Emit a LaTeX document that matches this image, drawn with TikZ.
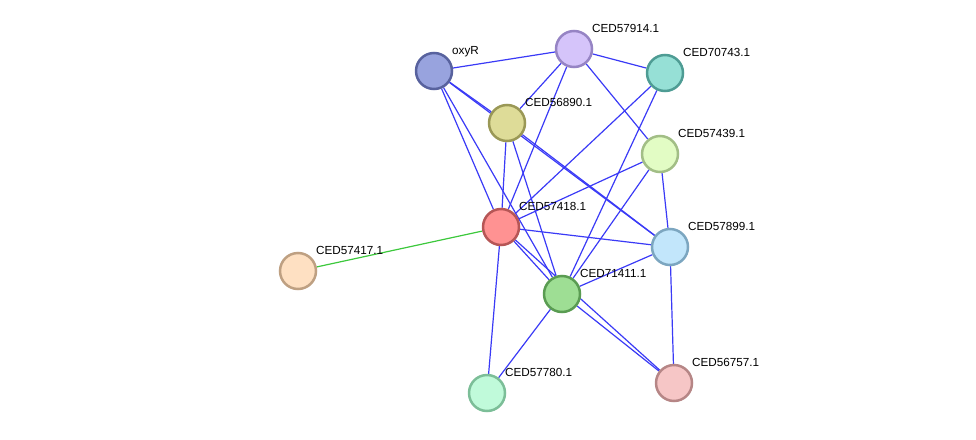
\documentclass[tikz,border=0pt]{standalone}
\usepackage{fontspec}
\setmainfont{Liberation Sans}
\usepackage{xcolor}
\usetikzlibrary{positioning,calc,backgrounds}

\definecolor{edgeblue}{RGB}{58,58,246}
\definecolor{edgegreen}{RGB}{60,200,60}
\definecolor{fOxyR}{RGB}{152,163,222}   \definecolor{dOxyR}{RGB}{88,98,158}
\definecolor{fA}{RGB}{213,196,250}      \definecolor{dA}{RGB}{150,132,196}
\definecolor{fB}{RGB}{150,224,214}      \definecolor{dB}{RGB}{78,156,148}
\definecolor{fC}{RGB}{222,220,152}      \definecolor{dC}{RGB}{154,152,86}
\definecolor{fD}{RGB}{226,252,196}      \definecolor{dD}{RGB}{162,190,134}
\definecolor{fE}{RGB}{255,146,146}      \definecolor{dE}{RGB}{182,86,86}
\definecolor{fF}{RGB}{194,230,251}      \definecolor{dF}{RGB}{124,166,192}
\definecolor{fG}{RGB}{254,224,194}      \definecolor{dG}{RGB}{190,160,130}
\definecolor{fH}{RGB}{158,222,148}      \definecolor{dH}{RGB}{90,156,82}
\definecolor{fI}{RGB}{192,250,218}      \definecolor{dI}{RGB}{124,190,152}
\definecolor{fJ}{RGB}{246,198,198}      \definecolor{dJ}{RGB}{182,134,134}

\tikzset{
  prot/.style={
    circle, line width=2.5pt, minimum size=36pt, inner sep=0pt
  },
  protlabel/.style={
    anchor=base west, inner sep=0pt, font=\fontsize{11.7}{14}\selectfont
  },
  link/.style={draw=edgeblue, line width=1.2pt},
  textlink/.style={draw=edgegreen, line width=1.2pt}
}

\begin{document}
\begin{tikzpicture}[x=1pt,y=-1pt]
  \useasboundingbox (0,0) rectangle (976,439);
  % proteins
  \node[prot,fill=fOxyR,draw=dOxyR] (oxyR) at (434,71) {};
  \node[prot,fill=fA,draw=dA] (p57914) at (574,49) {};
  \node[prot,fill=fB,draw=dB] (p70743) at (665,73) {};
  \node[prot,fill=fC,draw=dC] (p56890) at (507,123) {};
  \node[prot,fill=fD,draw=dD] (p57439) at (660,154) {};
  \node[prot,fill=fE,draw=dE] (p57418) at (501,227) {};
  \node[prot,fill=fF,draw=dF] (p57899) at (670,247) {};
  \node[prot,fill=fG,draw=dG] (p57417) at (298,271) {};
  \node[prot,fill=fH,draw=dH] (p71411) at (562,294) {};
  \node[prot,fill=fI,draw=dI] (p57780) at (487,393) {};
  \node[prot,fill=fJ,draw=dJ] (p56757) at (674,383) {};

  % edges, under the proteins
  \begin{scope}[on background layer]
    \draw[link] (oxyR) -- (p57914);
    \draw[link] (oxyR) -- (p56890);
    \draw[link] (oxyR) -- (p57899);
    \draw[link] (oxyR) -- (p57418);
    \draw[link] (oxyR) -- (p71411);
    \draw[link] (p57914) -- (p70743);
    \draw[link] (p57914) -- (p56890);
    \draw[link] (p57914) -- (p57418);
    \draw[link] (p57914) -- (p57439);
    \draw[link] (p70743) -- (p57418);
    \draw[link] (p70743) -- (p71411);
    \draw[link] (p57439) -- (p57418);
    \draw[link] (p57439) -- (p71411);
    \draw[link] (p57439) -- (p57899);
    \draw[link] (p56890) -- (p57418);
    \draw[link] (p56890) -- (p71411);
    \draw[link] (p56890) -- (p57899);
    \draw[link] (p57418) -- (p57899);
    \draw[link] (p57418) -- (p71411);
    \draw[link] (p57418) -- (p56757);
    \draw[link] (p57418) -- (p57780);
    \draw[link] (p71411) -- (p57899);
    \draw[link] (p71411) -- (p57780);
    \draw[link] (p71411) -- (p56757);
    \draw[link] (p57899) -- (p56757);
    \draw[textlink] (p57418) -- (p57417);
  \end{scope}

  % labels
  \node[protlabel] (t-oxyR) at ([xshift=18pt,yshift=17pt]oxyR.center) {oxyR};
  \node[protlabel] (t57914) at ([xshift=18pt,yshift=17pt]p57914.center) {CED57914.1};
  \node[protlabel] (t70743) at ([xshift=18pt,yshift=17pt]p70743.center) {CED70743.1};
  \node[protlabel] (t56890) at ([xshift=18pt,yshift=17pt]p56890.center) {CED56890.1};
  \node[protlabel] (t57439) at ([xshift=18pt,yshift=17pt]p57439.center) {CED57439.1};
  \node[protlabel] (t57418) at ([xshift=18pt,yshift=17pt]p57418.center) {CED57418.1};
  \node[protlabel] (t57899) at ([xshift=18pt,yshift=17pt]p57899.center) {CED57899.1};
  \node[protlabel] (t57417) at ([xshift=18pt,yshift=17pt]p57417.center) {CED57417.1};
  \node[protlabel] (t71411) at ([xshift=18pt,yshift=17pt]p71411.center) {CED71411.1};
  \node[protlabel] (t57780) at ([xshift=18pt,yshift=17pt]p57780.center) {CED57780.1};
  \node[protlabel] (t56757) at ([xshift=18pt,yshift=17pt]p56757.center) {CED56757.1};
\end{tikzpicture}
\end{document}
